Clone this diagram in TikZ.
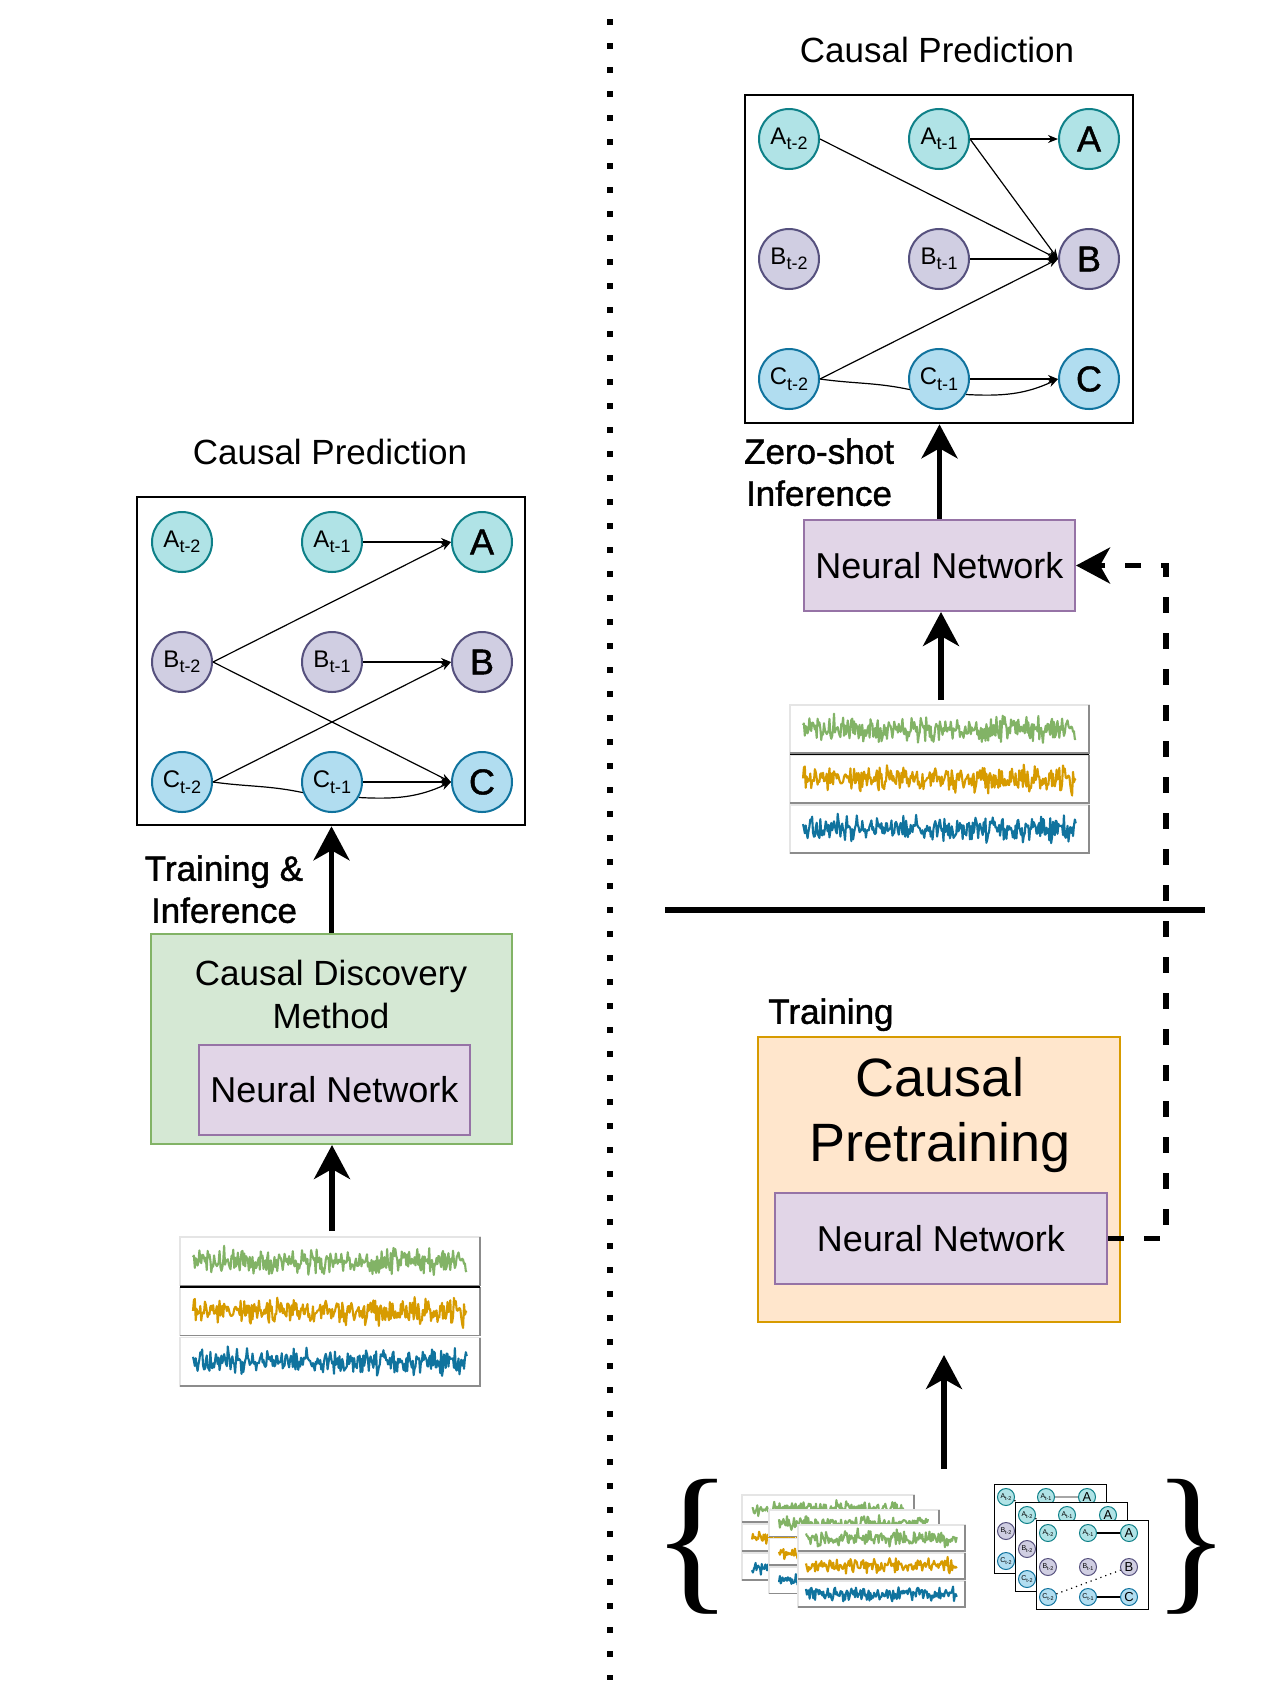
\documentclass[tikz,border=0pt]{standalone}
\usepackage{fontspec}
\usepackage{graphicx}
\setmainfont{Liberation Sans}
\newfontfamily\medfont[FakeBold=1.2]{Liberation Sans}
\newfontfamily\serifbr{Liberation Serif}
\usetikzlibrary{arrows.meta,calc}
\definecolor{aFill}{HTML}{B0E3E6}\definecolor{aLine}{HTML}{0E8088}
\definecolor{bFill}{HTML}{D0CEE2}\definecolor{bLine}{HTML}{56517E}
\definecolor{cFill}{HTML}{B1DDF0}\definecolor{cLine}{HTML}{10739E}
\definecolor{grFill}{HTML}{D5E8D4}\definecolor{grLine}{HTML}{82B366}
\definecolor{nnFill}{HTML}{E1D5E7}\definecolor{nnLine}{HTML}{9673A6}
\definecolor{orFill}{HTML}{FFE6CC}\definecolor{orLine}{HTML}{D79B00}
\definecolor{tsgreen}{HTML}{82B366}\definecolor{tsorange}{HTML}{D79B00}\definecolor{tsblue}{HTML}{10739E}

\newcommand{\nsub}[2]{#1\raisebox{-2.8pt}{\fontsize{9}{9}\selectfont #2}}
\newcommand{\msub}[2]{#1\raisebox{-0.6pt}{\fontsize{2.7}{2.7}\selectfont #2}}

% main causal graph: x0, y0, prefix
\newcommand{\cgraph}[3]{%
  \node[nA] (#3a2) at (#1,#2) {\nsub{A}{t-2}};
  \node[nA] (#3a1) at (#1+150,#2) {\nsub{A}{t-1}};
  \node[nA,bigl] (#3a) at (#1+300,#2) {A};
  \node[nB] (#3b2) at (#1,#2+120) {\nsub{B}{t-2}};
  \node[nB] (#3b1) at (#1+150,#2+120) {\nsub{B}{t-1}};
  \node[nB,bigl] (#3b) at (#1+300,#2+120) {B};
  \node[nC] (#3c2) at (#1,#2+240) {\nsub{C}{t-2}};
  \node[nC] (#3c1) at (#1+150,#2+240) {\nsub{C}{t-1}};
  \node[nC,bigl] (#3c) at (#1+300,#2+240) {C};
}
% back mini card (only the visible nodes): x, y, prefix
\newcommand{\minicardback}[3]{%
  \node[mcard, anchor=north west] (#3) at (#1,#2) {};
  \node[mA] (#3a2) at (#1+12,#2+13) {\msub{A}{t-2}};
  \node[mA] (#3a1) at (#1+52,#2+13) {\msub{A}{t-1}};
  \node[mA,mbig] (#3a) at (#1+93,#2+13) {A};
  \node[mB] (#3b2) at (#1+12,#2+47) {\msub{B}{t-2}};
  \node[mC] (#3c2) at (#1+12,#2+77) {\msub{C}{t-2}};
  \coordinate (#3b) at (#1+93,#2+47);
}
% front mini card: x, y, prefix
\newcommand{\minicard}[3]{%
  \node[mcard, anchor=north west] (#3) at (#1,#2) {};
  \node[mA] (#3a2) at (#1+12,#2+13) {\msub{A}{t-2}};
  \node[mA] (#3a1) at (#1+52,#2+13) {\msub{A}{t-1}};
  \node[mA,mbig] (#3a) at (#1+93,#2+13) {A};
  \node[mB] (#3b2) at (#1+12,#2+47) {\msub{B}{t-2}};
  \node[mB] (#3b1) at (#1+52,#2+47) {\msub{B}{t-1}};
  \node[mB,mbig] (#3b) at (#1+93,#2+47) {B};
  \node[mC] (#3c2) at (#1+12,#2+77) {\msub{C}{t-2}};
  \node[mC] (#3c1) at (#1+52,#2+77) {\msub{C}{t-1}};
  \node[mC,mbig] (#3c) at (#1+93,#2+77) {C};
}
% time series set: x0, y0, width, pitch, margin, seed, amplitude
\newcommand{\tsset}[7]{%
  \foreach \clr [count=\ii from 0] in {tsgreen,tsorange,tsblue}{%
    \pgfmathsetmacro{\rowtop}{#2+\ii*#4}
    \filldraw[panel] (#1,\rowtop) rectangle (#1+#3,\rowtop+#4-2);
    \draw[panelshade] (#1+#3,\rowtop) -- (#1+#3,\rowtop+#4-2) -- (#1,\rowtop+#4-2);
    \pgfmathtruncatemacro{\sd}{#6+7*\ii}
    \pgfmathsetseed{\sd}
    \pgfmathtruncatemacro{\ns}{#3*1.0}
    \draw[sig, color=\clr] plot[domain=0:1, samples=\ns] ({#1+#5+(#3-2*#5)*\x}, {\rowtop+#4/2-1+#7*(rand+rand+rand)});
  }%
}

\begin{document}
\begin{tikzpicture}[x=0.5pt, y=-0.5pt,
  gnode/.style={circle, line width=1pt, minimum size=30pt, inner sep=0pt, font=\fontsize{12}{12}\selectfont},
  nA/.style={gnode, draw=aLine, fill=aFill},
  nB/.style={gnode, draw=bLine, fill=bFill},
  nC/.style={gnode, draw=cLine, fill=cFill},
  bigl/.style={font=\medfont\fontsize{18}{18}\selectfont},
  mnode/.style={circle, line width=0.5pt, minimum size=8.5pt, inner sep=0pt, font=\fontsize{3.5}{3.5}\selectfont},
  mA/.style={mnode, draw=aLine, fill=aFill},
  mB/.style={mnode, draw=bLine, fill=bFill},
  mC/.style={mnode, draw=cLine, fill=cFill},
  mbig/.style={font=\fontsize{6.5}{6.5}\selectfont},
  mcard/.style={draw, fill=white, line width=0.7pt, minimum width=56pt, minimum height=44.5pt, inner sep=0pt},
  mline/.style={line width=0.6pt},
  mdot/.style={line width=0.6pt, dotted},
  gedge/.style={line width=0.6pt, -{Stealth[length=5pt,width=4pt]}},
  gline/.style={line width=0.6pt},
  gbox/.style={draw, line width=1.3pt, minimum width=194pt, minimum height=164pt, inner sep=0pt},
  cdbox/.style={draw=grLine, fill=grFill, line width=1pt, inner sep=0pt},
  nnbox/.style={draw=nnLine, fill=nnFill, line width=1pt, inner sep=0pt, font=\fontsize{18}{18}\selectfont},
  ptbox/.style={draw=orLine, fill=orFill, line width=1pt, inner sep=0pt},
  title/.style={font=\fontsize{17.5}{21}\selectfont, inner sep=0pt},
  medlbl/.style={font=\medfont\fontsize{17.5}{21}\selectfont, inner sep=0pt, align=center},
  bigarrow/.style={line width=2.6pt, -{Stealth[length=17pt,width=18pt,inset=5pt]}},
  dasharrow/.style={bigarrow, dash pattern=on 8pt off 10pt},
  dotline/.style={line width=3pt, dash pattern=on 3pt off 9pt},
  sepline/.style={line width=2.6pt},
  panel/.style={draw=black!10, fill=white, line width=0.6pt},
  panelshade/.style={draw=black!45, line width=0.6pt},
  sig/.style={line width=1.05pt, line join=round}
]
\useasboundingbox (0,0) rectangle (1269,1683);
\fill[white] (0,0) rectangle (1269,1683);

% dividers
\coordinate (dtop) at (609.5,19);
\coordinate (dbot) at (609.5,1680);
\draw[dotline] (dtop) -- (dbot);
\coordinate (sepl) at (665,910);
\coordinate (sepr) at (1205,910);
\draw[sepline] (sepl) -- (sepr);

% ===== LEFT =====
\node[title, anchor=base] (ltitle) at (330,464) {Causal Prediction};
\node[gbox] (lgraph) at (331,661) {};
\cgraph{182}{542}{L}
\draw[gedge] (La1) -- (La);
\draw[gedge] (Lb2.east) -- (La.west);
\draw[gedge] (Lb1) -- (Lb);
\draw[gedge] (Lc2.east) -- (Lb.west);
\draw[gedge] (Lb2.east) -- (Lc.west);
\draw[gedge] (Lc1) -- (Lc);
\draw[gline] (Lc2.east) to[out=-8,in=168] (Lc1.-160);
\draw[gedge] (Lc1.-30) to[out=-3,in=205] (Lc.west);

\node[medlbl, anchor=north] (trinf) at (224,855) {Training \&\\Inference};
\node[cdbox, minimum width=180.5pt, minimum height=105pt] (lcd) at (331.5,1039) {};
\node[font=\fontsize{17.5}{21.5}\selectfont, align=center, anchor=north, inner sep=0pt] (cdtxt) at (331,960) {Causal Discovery\\Method};
\node[nnbox, minimum width=135.5pt, minimum height=45pt] (lnn) at (334.5,1090) {Neural Network};
\draw[bigarrow] (lcd.north) -- (lcd.north |- lgraph.south);

\tsset{180}{1237}{300}{50.3}{13}{101}{6}
\draw[line width=0.7pt] (180,1286.8) -- (480,1286.8);
\coordinate (lts) at (332,1231);
\draw[bigarrow] (lts) -- (lts |- lcd.south);

% ===== RIGHT TOP =====
\node[title, anchor=base] (rtitle) at (937,62) {Causal Prediction};
\node[gbox] (rgraph) at (939,259) {};
\cgraph{789}{139}{R}
\draw[gedge] (Ra1) -- (Ra);
\draw[gedge] (Ra2.east) -- (Rb.west);
\draw[gedge] (Ra1.east) -- (Rb.west);
\draw[gedge] (Rb1) -- (Rb);
\draw[gedge] (Rc2.east) -- (Rb.west);
\draw[gedge] (Rc1) -- (Rc);
\draw[gline] (Rc2.east) to[out=-8,in=168] (Rc1.-160);
\draw[gedge] (Rc1.-30) to[out=-3,in=205] (Rc.west);

\node[medlbl, anchor=north] (zsinf) at (819,438) {Zero-shot\\Inference};
\node[nnbox, minimum width=135.5pt, minimum height=45.5pt] (rnn) at (939.5,565.5) {Neural Network};
\draw[bigarrow] (rnn.north) -- (rnn.north |- rgraph.south);

\tsset{790}{705}{299}{50}{13}{101}{6}
\draw[line width=0.7pt] (790,754.5) -- (1089,754.5);
\coordinate (rts) at (941,700);
\draw[bigarrow] (rts) -- (rts |- rnn.south);

% ===== RIGHT BOTTOM =====
\node[medlbl, anchor=north west] (trlbl) at (768,998) {Training};
\node[ptbox, minimum width=181pt, minimum height=142.5pt] (ptbox) at (939,1179.5) {};
\node[font=\fontsize{27}{32.5}\selectfont, align=center, anchor=north, inner sep=0pt] (pttxt) at (940,1057) {Causal\\Pretraining};
\node[nnbox, minimum width=166pt, minimum height=45.5pt] (pnn) at (941,1238.5) {Neural Network};
\draw[dasharrow] (pnn.east) -- ++(58,0) |- (rnn.east);

\coordinate (ptail) at (944,1469);
\coordinate (ptip) at (944,1355);
\draw[bigarrow] (ptail) -- (ptip);

% braces
\node[inner sep=0pt, anchor=north west] (lbrace) at (652,1479) {\resizebox*{40pt}{67.5pt}{\serifbr\{}};
\node[inner sep=0pt, anchor=north west] (rbrace) at (1153,1479) {\resizebox*{38pt}{67.5pt}{\serifbr\}}};

% stacked time series cards
\tsset{742}{1495}{172}{29}{10}{201}{3.2}
\tsset{769}{1510}{170}{28.5}{10}{301}{3.2}
\tsset{798}{1525}{167}{28}{8}{401}{3.5}

% stacked graph cards
\minicardback{994}{1484}{ma}
\draw[mdot] (maa2) -- (mab);
\draw[mline, black!35] (maa1) -- (maa);
\minicardback{1015}{1502}{mb}
\draw[mdot] (mba2) -- (mbb);
\draw[mdot] (mba1) -- (mbb);
\minicard{1036}{1520}{mc}
\draw[mline] (mca1) -- (mca);
\draw[mdot] (mcc2) -- (mcb);
\draw[mline] (mcc1) -- (mcc);
\end{tikzpicture}
\end{document}
